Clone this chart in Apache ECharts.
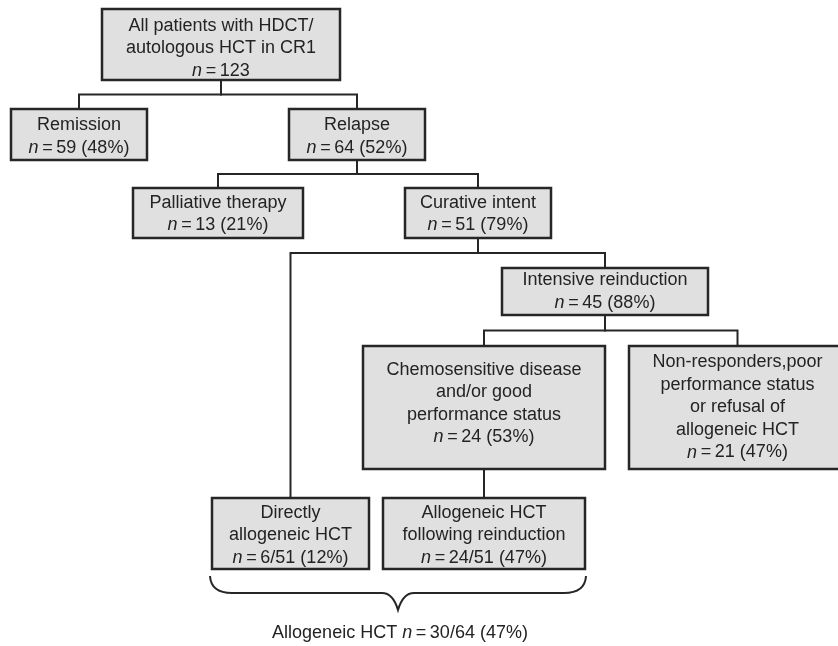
<!DOCTYPE html>
<html>
<head>
<meta charset="utf-8">
<script src="https://cdn.jsdelivr.net/npm/echarts@6/dist/echarts.min.js"></script>
<style>html,body{margin:0;padding:0;background:#fff}#c{width:838px;height:646px}</style>
</head>
<body>
<div id="c"></div>
<script>
// ---- chart content ----
const boxTitles = [
  "All patients with HDCT/\nautologous HCT in CR1",
  "Remission",
  "Relapse",
  "Palliative therapy",
  "Curative intent",
  "Intensive reinduction",
  "Chemosensitive disease\nand/or good\nperformance status",
  "Non-responders,poor\nperformance status\nor refusal of\nallogeneic HCT",
  "Directly\nallogeneic HCT",
  "Allogeneic HCT\nfollowing reinduction"
];
const boxCounts = ["123", "59", "64", "13", "51", "45", "24", "21", "6/51", "24/51"];
const boxPercents = [null, 48, 52, 21, 79, 88, 53, 47, 12, 47];
// tree links: [parent, child]
const links = [[0,1],[0,2],[2,3],[2,4],[4,8],[4,5],[5,6],[5,7],[6,9]];
// summary under the brace
const summaryTitle = "Allogeneic HCT";
const summaryCount = "30/64";
const summaryPercent = 47;
const bracedBoxes = [8, 9];

// ---- layout (box extents in page units: x0, y0, x1, y1) ----
const boxLayout = [
  [102, 9, 340, 80],
  [11, 109, 147, 160],
  [289, 109, 425, 160],
  [133, 188, 303, 238],
  [405, 188, 551, 238],
  [502, 268, 708, 315],
  [363, 346, 605, 469],
  [629, 346, 846, 469],
  [212, 498, 369, 569],
  [383, 498, 585, 569]
];
// vertical nudge of each box's text block
const textNudge = [4, 2, 2, 1, 1, 0, -4, 0, 2, 2];

const FONT = '"Liberation Sans", Arial, Helvetica, sans-serif';
const TXT = '#232323';
const rich = {
  t: { fontSize: 18, fontFamily: FONT, fill: TXT, lineHeight: 22.5 },
  i: { fontSize: 18, fontFamily: FONT, fill: TXT, lineHeight: 22.5, fontStyle: 'italic' }
};
const EQ = "\u2009=\u2009";

function boxText(i) {
  const lines = boxTitles[i].split("\n").map(s => "{t|" + s + "}");
  const nline = "{i|n}{t|" + EQ + boxCounts[i] + (boxPercents[i] != null ? " (" + boxPercents[i] + "%)" : "") + "}";
  lines.push(nline);
  return lines.join("\n");
}

// bus y for each parent: midway between its bottom and its nearest child's top
const busY = {};
links.forEach(([p, c]) => {
  const top = boxLayout[c][1];
  busY[p] = busY[p] === undefined ? top : Math.min(busY[p], top);
});
Object.keys(busY).forEach(p => { busY[p] = (boxLayout[p][3] + busY[p]) / 2; });

const chart = echarts.init(document.getElementById('c'), null, { renderer: 'canvas' });

chart.setOption({
  animation: false,
  backgroundColor: '#ffffff',
  grid: { left: 0, right: 0, top: 0, bottom: 0 },
  xAxis: { type: 'value', min: 0, max: 838, show: false },
  yAxis: { type: 'value', min: 0, max: 646, inverse: true, show: false },
  series: [
    {
      type: 'custom',
      name: 'links',
      coordinateSystem: 'cartesian2d',
      data: links.map((l, k) => [k, 0]),
      encode: { x: 0, y: 1 },
      silent: true,
      renderItem: function (params, api) {
        const [p, c] = links[api.value(0)];
        const P = boxLayout[p], C = boxLayout[c];
        const px = (P[0] + P[2]) / 2, cx = (C[0] + C[2]) / 2;
        const by = busY[p];
        const pts = [[px, P[3]], [px, by], [cx, by], [cx, C[1]]].map(q => api.coord(q));
        return {
          type: 'polyline',
          shape: { points: pts },
          style: { stroke: '#262626', lineWidth: 2, fill: null, lineJoin: 'miter' }
        };
      }
    },
    {
      type: 'custom',
      name: 'boxes',
      coordinateSystem: 'cartesian2d',
      data: boxLayout.map((b, i) => [b[0], b[1], b[2], b[3], i]),
      encode: { x: [0, 2], y: [1, 3] },
      silent: true,
      renderItem: function (params, api) {
        const a = api.coord([api.value(0), api.value(1)]);
        const b = api.coord([api.value(2), api.value(3)]);
        const i = api.value(4);
        return {
          type: 'group',
          children: [
            {
              type: 'rect',
              shape: { x: a[0], y: a[1], width: b[0] - a[0], height: b[1] - a[1] },
              style: { fill: '#e0e0e0', stroke: '#262626', lineWidth: 2.5 }
            },
            {
              type: 'text',
              style: {
                text: boxText(i),
                rich: rich,
                x: (a[0] + b[0]) / 2,
                y: (a[1] + b[1]) / 2 + textNudge[i],
                align: 'center',
                verticalAlign: 'middle',
                fontSize: 18,
                fontFamily: FONT,
                fill: TXT
              }
            }
          ]
        };
      }
    },
    {
      type: 'custom',
      name: 'brace',
      coordinateSystem: 'cartesian2d',
      data: [[0, 0]],
      encode: { x: 0, y: 1 },
      silent: true,
      renderItem: function (params, api) {
        const L = boxLayout[bracedBoxes[0]], R = boxLayout[bracedBoxes[bracedBoxes.length - 1]];
        const x0 = L[0] - 2, x1 = R[2] + 1;
        const yTop = Math.max(L[3], R[3]) + 7;
        const yMid = yTop + 17, yTip = yTop + 34;
        const xm = (x0 + x1) / 2;
        const c = q => api.coord(q);
        const P = (q) => c(q).join(' ');
        const d = 'M ' + P([x0, yTop]) +
          ' Q ' + P([x0 + 1, yMid]) + ' ' + P([x0 + 22, yMid]) +
          ' L ' + P([xm - 16, yMid]) +
          ' Q ' + P([xm - 5, yMid]) + ' ' + P([xm, yTip]) +
          ' Q ' + P([xm + 5, yMid]) + ' ' + P([xm + 16, yMid]) +
          ' L ' + P([x1 - 22, yMid]) +
          ' Q ' + P([x1 - 1, yMid]) + ' ' + P([x1, yTop]);
        const t = c([xm + 2, yTip + 23]);
        return {
          type: 'group',
          children: [
            {
              type: 'path',
              shape: { pathData: d },
              style: { stroke: '#262626', lineWidth: 2, fill: null }
            },
            {
              type: 'text',
              style: {
                text: '{t|' + summaryTitle + ' }{i|n}{t|' + EQ + summaryCount + ' (' + summaryPercent + '%)}',
                rich: rich,
                x: t[0],
                y: t[1],
                align: 'center',
                verticalAlign: 'middle',
                fontSize: 18,
                fontFamily: FONT,
                fill: TXT
              }
            }
          ]
        };
      }
    }
  ]
});
</script>
</body>
</html>
